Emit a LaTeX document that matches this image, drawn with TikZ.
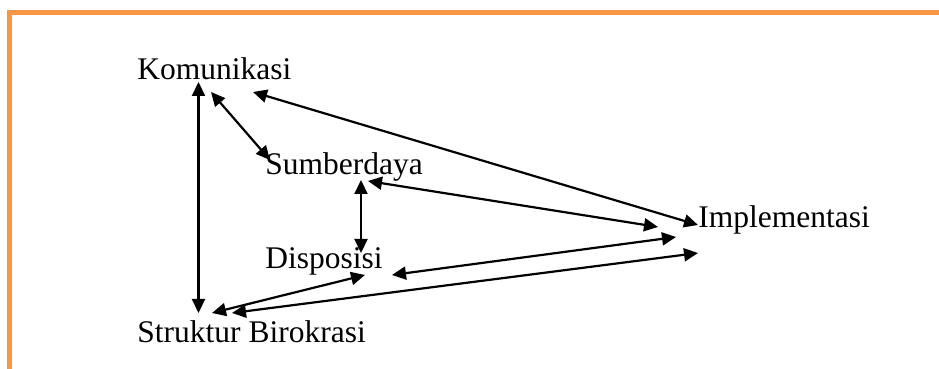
\documentclass[tikz,border=0pt]{standalone}
\usepackage{fontspec}
\setmainfont{Liberation Serif}
\usetikzlibrary{arrows.meta}
\definecolor{frameorange}{HTML}{F79646}
\begin{document}
\begin{tikzpicture}[x=0.5pt,y=-0.5pt,
  label/.style={anchor=base west,inner sep=0pt,font=\fontsize{15.75}{18}\selectfont},
  link/.style={line width=1.1pt,{Triangle[length=7pt,width=6.5pt]}-{Triangle[length=7pt,width=6.5pt]}},
  frame/.style={draw=frameorange,line width=2.5pt,line join=miter}]
\useasboundingbox (0,0) rectangle (939,369);

% page frame
\draw[frame] (9.2,375) -- (9.2,12.5) -- (945,12.5);

% labels
\node[label] (kom) at (137,80) {Komunikasi};
\node[label] (sum) at (265,175) {Sumberdaya};
\node[label] (dis) at (265,269) {Disposisi};
\node[label] (imp) at (698,228) {Implementasi};
\node[label] (str) at (137,343) {Struktur Birokrasi};

% arrow end points
\coordinate (komA) at (198.5,82);
\coordinate (komB) at (211,92);
\coordinate (komC) at (253,92);
\coordinate (sumA) at (270,160);
\coordinate (sumB) at (361,180);
\coordinate (sumC) at (368,181);
\coordinate (disA) at (361,253);
\coordinate (disB) at (365,275);
\coordinate (disC) at (392,275);
\coordinate (impA) at (698,225);
\coordinate (impB) at (658,227);
\coordinate (impC) at (676,237);
\coordinate (impD) at (698,253);
\coordinate (strA) at (198.5,313);
\coordinate (strB) at (212,313);
\coordinate (strC) at (232,313);

% connectors
\draw[link] (komA) -- (strA);
\draw[link] (komB) -- (sumA);
\draw[link] (komC) -- (impA);
\draw[link] (sumC) -- (impB);
\draw[link] (sumB) -- (disA);
\draw[link] (disC) -- (impC);
\draw[link] (disB) -- (strB);
\draw[link] (strC) -- (impD);
\end{tikzpicture}
\end{document}
